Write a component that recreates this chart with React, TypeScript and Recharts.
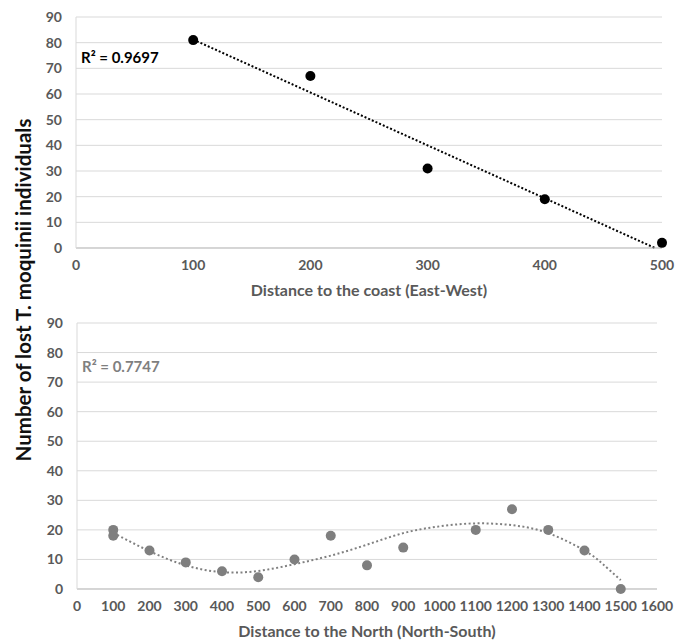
import { ComposedChart, Scatter, Line, XAxis, YAxis, CartesianGrid, Label } from "recharts";

// East-West panel
const coastDistance = [100, 200, 300, 400, 500];
const coastLost = [81, 67, 31, 19, 2];
const coastTrendX = [100, 494];
const coastTrendY = [81.2, 0];

// North-South panel
const northDistance = [100, 100, 200, 300, 400, 500, 600, 700, 800, 900, 1100, 1200, 1300, 1400, 1500];
const northLost = [20, 18, 13, 9, 6, 4, 10, 18, 8, 14, 20, 27, 20, 13, 0];
const northTrendX = [100, 200, 300, 400, 500, 600, 700, 800, 900, 1000, 1100, 1200, 1300, 1400, 1450, 1500];
const northTrendY = [19, 12.8, 8, 5.7, 6.1, 8.4, 11.3, 15, 18.9, 21.2, 22.2, 21.6, 18.9, 13, 8.5, 3];

const yTicks = [0, 10, 20, 30, 40, 50, 60, 70, 80, 90];
const coastTicks = [0, 100, 200, 300, 400, 500];
const northTicks = [0, 100, 200, 300, 400, 500, 600, 700, 800, 900, 1000, 1100, 1200, 1300, 1400, 1500, 1600];

const coastPoints = coastDistance.map((x, i) => ({ x, y: coastLost[i] }));
const coastTrend = coastTrendX.map((x, i) => ({ x, y: coastTrendY[i] }));
const northPoints = northDistance.map((x, i) => ({ x, y: northLost[i] }));
const northTrend = northTrendX.map((x, i) => ({ x, y: northTrendY[i] }));

const FONT = "Lato, 'Open Sans', sans-serif";
const tickStyle = { fill: "#595959", fontSize: 14, fontWeight: 700, fontFamily: FONT };
const titleStyle = { fill: "#595959", fontSize: 16, fontWeight: 700, fontFamily: FONT };

const dot = (color: string) => (props: any) => (
  <circle cx={props.cx} cy={props.cy} r={5} fill={color} />
);

export default function App() {
  return (
    <div style={{ position: "absolute", left: 0, top: 0, width: 683, height: 642, background: "#fff", fontFamily: FONT }}>
      <div style={{ position: "absolute", left: 0, top: 0 }}>
        <ComposedChart width={683} height={300} margin={{ top: 17, right: 21, bottom: 2, left: 36 }}>
          <CartesianGrid vertical={false} stroke="#d9d9d9" />
          <XAxis
            type="number"
            dataKey="x"
            domain={[0, 500]}
            ticks={coastTicks}
            tick={tickStyle}
            tickLine={false}
            tickMargin={6}
            height={50}
            axisLine={{ stroke: "#bfbfbf" }}
          >
            <Label value="Distance to the coast (East-West)" position="insideBottom" offset={2} style={titleStyle} />
          </XAxis>
          <YAxis
            type="number"
            dataKey="y"
            domain={[0, 90]}
            ticks={yTicks}
            tick={tickStyle}
            tickLine={false}
            tickMargin={8}
            width={40}
            axisLine={{ stroke: "#d9d9d9" }}
          />
          <Line data={coastTrend} dataKey="y" type="linear" stroke="#000" strokeWidth={2} strokeDasharray="2 2" dot={false} isAnimationActive={false} />
          <Scatter data={coastPoints} dataKey="y" shape={dot("#000")} isAnimationActive={false} />
        </ComposedChart>
      </div>
      <div style={{ position: "absolute", left: 0, top: 300 }}>
        <ComposedChart width={683} height={342} margin={{ top: 23, right: 26, bottom: 3, left: 37 }}>
          <CartesianGrid vertical={false} stroke="#d9d9d9" />
          <XAxis
            type="number"
            dataKey="x"
            domain={[0, 1600]}
            ticks={northTicks}
            interval={0}
            tick={tickStyle}
            tickLine={false}
            tickMargin={6}
            height={50}
            axisLine={{ stroke: "#bfbfbf" }}
          >
            <Label value="Distance to the North (North-South)" position="insideBottom" offset={2} style={titleStyle} />
          </XAxis>
          <YAxis
            type="number"
            dataKey="y"
            domain={[0, 90]}
            ticks={yTicks}
            tick={tickStyle}
            tickLine={false}
            tickMargin={8}
            width={40}
            axisLine={{ stroke: "#d9d9d9" }}
          />
          <Line data={northTrend} dataKey="y" type="natural" stroke="#808080" strokeWidth={2} strokeDasharray="2 2.5" dot={false} isAnimationActive={false} />
          <Scatter data={northPoints} dataKey="y" shape={dot("#7f7f7f")} isAnimationActive={false} />
        </ComposedChart>
      </div>
      <div style={{ position: "absolute", left: 81, top: 48, fontSize: 15, fontWeight: 700, color: "#000" }}>
        R² = 0.9697
      </div>
      <div style={{ position: "absolute", left: 82, top: 357, fontSize: 15, fontWeight: 700, color: "#7f7f7f" }}>
        R² = 0.7747
      </div>
      <div
        style={{
          position: "absolute",
          left: 23 - 200,
          top: 290 - 12,
          width: 400,
          height: 24,
          lineHeight: "24px",
          textAlign: "center",
          transform: "rotate(-90deg)",
          fontSize: 20.5,
          fontWeight: 700,
          color: "#111",
        }}
      >
        Number of lost T. moquinii individuals
      </div>
    </div>
  );
}
